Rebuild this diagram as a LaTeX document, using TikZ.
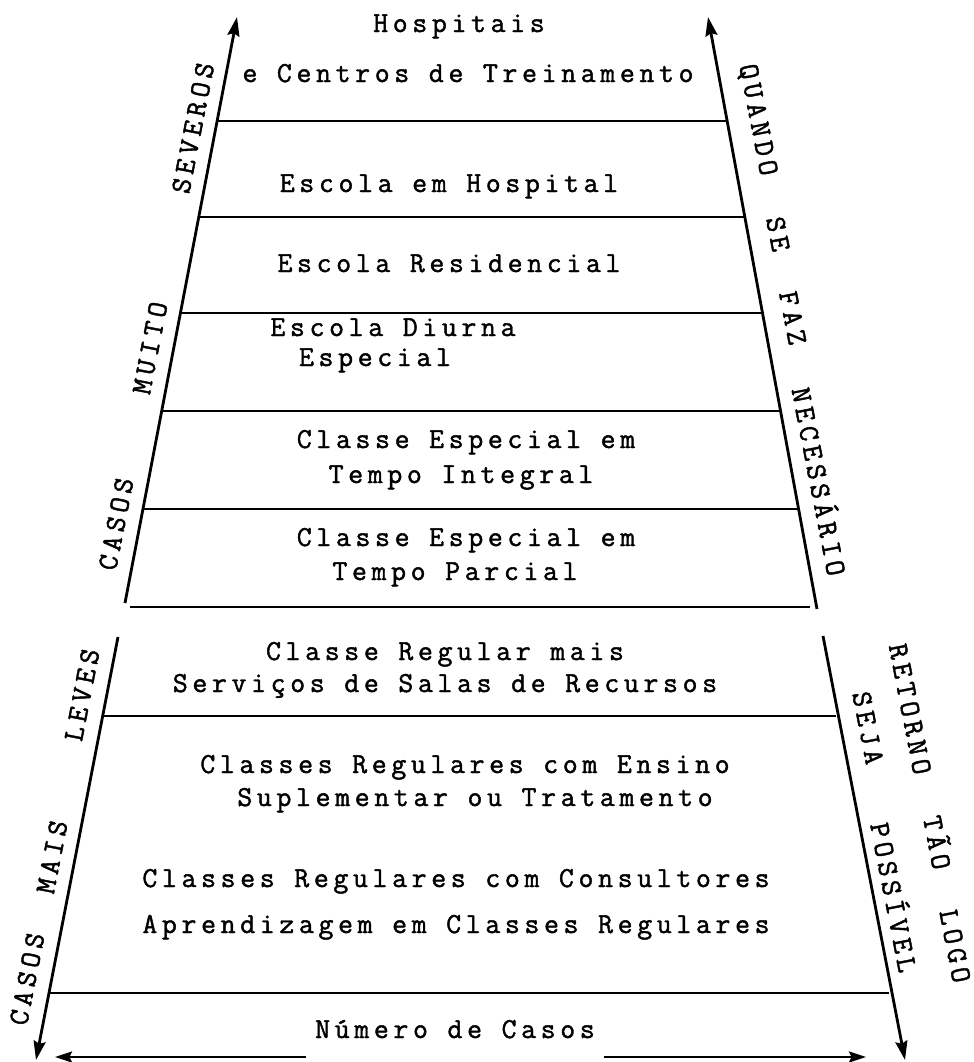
\documentclass[tikz,border=0pt]{standalone}
\usepackage{fontspec}
\usepackage{tikz}
\usetikzlibrary{arrows.meta, positioning, calc}
\newfontfamily\typew{Latin Modern Mono}[LetterSpace=16, FakeBold=1.5]
\newcommand{\tw}{\typew\fontsize{16.5}{18}\selectfont}
\tikzset{
  lvl/.style      = {font=\tw, anchor=base, inner sep=0pt},
  sidel/.style    = {font=\tw, rotate=79, inner sep=0pt},
  sider/.style    = {font=\tw, rotate=-79, inner sep=0pt},
  axx/.style      = {-{Stealth[length=3.8mm, width=2.4mm, inset=0.5mm]}, line width=1.6pt},
  rung/.style     = {line width=1.3pt},
  base/.style     = {-{Stealth[length=3.4mm, width=2.2mm, inset=0.5mm]}, line width=1.4pt},
}

\begin{document}
\begin{tikzpicture}[x=0.02cm, y=-0.02cm, >=Stealth]
\useasboundingbox (0,0) rectangle (974,1062);

% ===== 边线 =====
\coordinate (ltop) at (237,17);
\coordinate (lmid) at (125,603);
\coordinate (lbeg) at (118,637);
\coordinate (lend) at (36,1060);
\coordinate (rtop) at (708,17);
\coordinate (rmid) at (817,609);
\coordinate (rbeg) at (823,636);
\coordinate (rend) at (905,1060);
\draw[axx] (lmid) -- (ltop);
\draw[axx] (rmid) -- (rtop);
\draw[axx] (lbeg) -- (lend);
\draw[axx] (rbeg) -- (rend);

% ===== 横线 =====
\draw[rung] (218,121) -- (728,121);
\draw[rung] (200,217) -- (746,217);
\draw[rung] (182,313) -- (764,313);
\draw[rung] (163,411) -- (781,411);
\draw[rung] (144,509) -- (799,509);
\draw[rung] (130,607) -- (810,607);
\draw[rung] (103,716) -- (836,716);
\draw[rung] (49,993) -- (889,993);

% ===== 层级文字 =====
\node[lvl] (hosp)  at (459,32)  {Hospitais};
\node[lvl] (centr) at (468,82)  {e Centros de Treinamento};
\node[lvl] (eschos) at (449,192) {Escola em Hospital};
\node[lvl] (escres) at (449,272) {Escola Residencial};
\node[lvl] (escdi) at (393,336) {Escola Diurna};
\node[lvl] (escdii) at (375,366) {Especial};
\node[lvl] (ceti)  at (466,448) {Classe Especial em};
\node[lvl] (cetii) at (461,483) {Tempo Integral};
\node[lvl] (cepi)  at (466,546) {Classe Especial em};
\node[lvl] (cepii) at (455,580) {Tempo Parcial};
\node[lvl] (crsi)  at (445,660) {Classe Regular mais};
\node[lvl] (crsii) at (445,692) {Serviços de Salas de Recursos};
\node[lvl] (crei)  at (465,773) {Classes Regulares com Ensino};
\node[lvl] (creii) at (475,806) {Suplementar ou Tratamento};
\node[lvl] (crc)   at (456,887) {Classes Regulares com Consultores};
\node[lvl] (acr)   at (456,933) {Aprendizagem em Classes Regulares};

% ===== 左侧标注 =====
\node[sidel] (sev)  at (193,128) {SEVEROS};
\node[sidel] (mui)  at (150,348) {MUITO};
\node[sidel] (casa) at (116,524) {CASOS};
\node[sidel] (lev)  at (82,695)  {LEVES};
\node[sidel] (mais) at (52,857)  {MAIS};
\node[sidel] (casb) at (27,979)  {CASOS};

% ===== 右侧标注 =====
\node[sider] (qdo)  at (757,120) {QUANDO};
\node[sider] (se)   at (778,234) {SE};
\node[sider] (faz)  at (793,318) {FAZ};
\node[sider] (nec)  at (821,481) {NECESSÁRIO};
\node[sider] (ret)  at (910,709) {RETORNO};
\node[sider] (seja) at (868,728) {SEJA};
\node[sider] (tao)  at (939,842) {TÃO};
\node[sider] (poss) at (896,897) {POSSÍVEL};
\node[sider] (logo) at (955,946) {LOGO};

% ===== 底部 =====
\node[lvl, inner xsep=0.18cm] (num) at (455,1038) {Número de Casos};
\coordinate (numl) at (55,1057);
\coordinate (numr) at (866,1057);
\draw[base] (num.west |- numl) -- (numl);
\draw[base] (num.east |- numr) -- (numr);

\end{tikzpicture}
\end{document}
